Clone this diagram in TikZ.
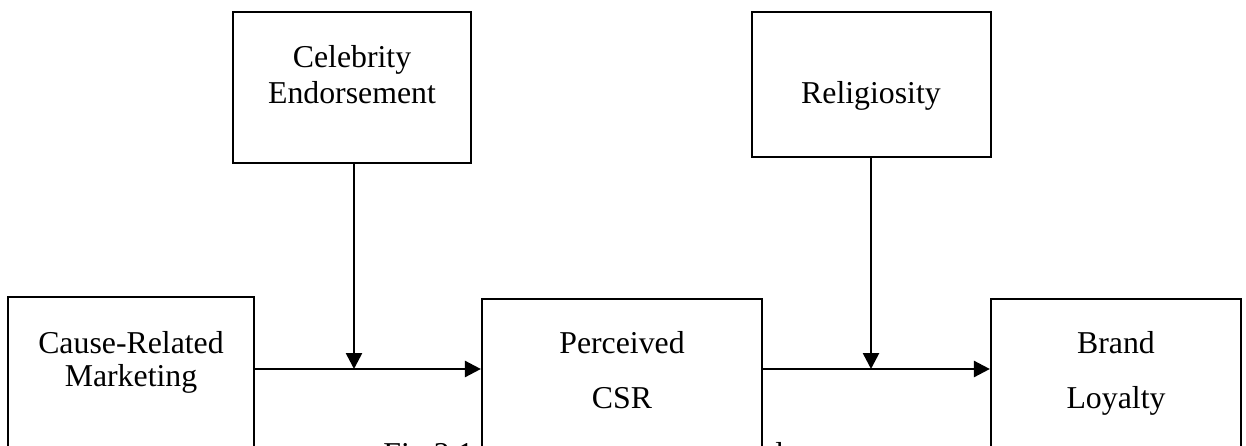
\documentclass[tikz,border=0pt]{standalone}
\usepackage{fontspec}
\setmainfont{Liberation Serif}
\usetikzlibrary{arrows.meta}
\tikzset{
  box/.style={draw=black, line width=1.1pt, fill=white, rectangle, inner sep=0pt},
  lbl/.style={anchor=base, inner sep=0pt, font=\fontsize{15.9}{18}\selectfont},
  arr/.style={line width=1.3pt, -{Triangle[length=8pt,width=8pt]}},
}
\begin{document}
\begin{tikzpicture}[x=1pt,y=1pt]
\useasboundingbox (0,0) rectangle (623,-222.5);
\clip (0,0) rectangle (623,-222.5);
% caption (mostly hidden behind the boxes)
\node[lbl, anchor=base west] (cap) at (191.5,-232.3) {Fig 2.1};
\node[lbl, anchor=base west] (capl) at (387.5,-232.3) {l};
% boxes
\node[box, minimum width=119pt, minimum height=75.5pt] (ce) at (176,-43.75) {};
\node[box, minimum width=119.5pt, minimum height=72.5pt] (rel) at (435.75,-42.25) {};
\node[box, minimum width=123pt, minimum height=100pt, anchor=north] (crm) at (65.5,-148) {};
\node[box, minimum width=140pt, minimum height=100pt, anchor=north] (csr) at (311,-149) {};
\node[box, minimum width=125pt, minimum height=100pt, anchor=north] (bl) at (558,-149) {};
% labels
\node[lbl] (ce1) at (176,-33.5) {Celebrity};
\node[lbl] (ce2) at (176,-51.8) {Endorsement};
\node[lbl] (rel1) at (435.5,-51.5) {Religiosity};
\node[lbl] (crm1) at (65.5,-176.5) {Cause-Related};
\node[lbl] (crm2) at (65.5,-193) {Marketing};
\node[lbl] (csr1) at (311,-176.5) {Perceived};
\node[lbl] (csr2) at (311,-204) {CSR};
\node[lbl] (bl1) at (558,-176.5) {Brand};
\node[lbl] (bl2) at (558,-204) {Loyalty};
% junctions
\coordinate (j1) at (177,-184.5);
\coordinate (j2) at (435.5,-184.5);
% connectors
\draw[arr] (crm.east |- j1) -- (csr.west |- j1);
\draw[arr] (csr.east |- j2) -- (bl.west |- j2);
\draw[arr] (ce.south -| j1) -- (j1);
\draw[arr] (rel.south -| j2) -- (j2);
\end{tikzpicture}
\end{document}
